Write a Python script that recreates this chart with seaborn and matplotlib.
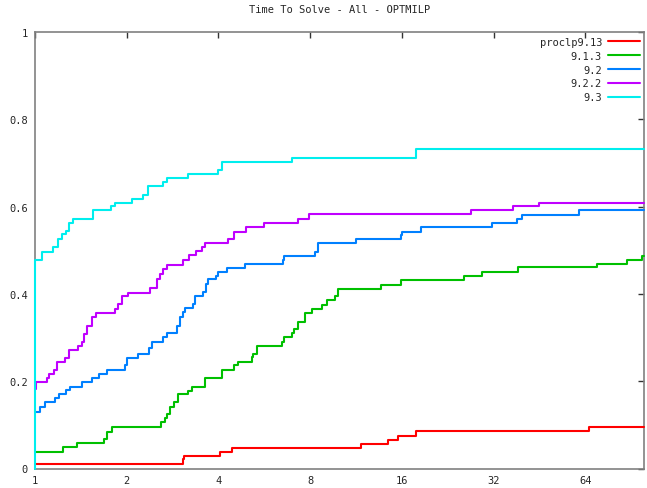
import numpy as np
import pandas as pd
import matplotlib
matplotlib.use("Agg")
import matplotlib.pyplot as plt
import seaborn as sns

# performance profile data (ratio to best, fraction solved)
red_x = [1, 3.054, 3.084, 4.048, 4.423, 11.76, 14.42, 15.59, 17.84, 66.0, 100]
red_y = [0.010, 0.022, 0.029, 0.038, 0.047, 0.056, 0.066, 0.075, 0.085, 0.094, 0.094]

green_x = [1, 1.233, 1.371, 1.685, 1.719, 1.785, 2.592, 2.672, 2.718, 2.774,
           2.860, 2.954, 3.186, 3.283, 3.615, 4.101, 4.500, 4.649, 5.144, 5.208,
           5.367, 6.484, 6.566, 6.961, 7.083, 7.284, 7.696, 8.095, 8.729, 9.110,
           9.681, 9.904, 13.64, 15.87, 25.67, 29.27, 38.42, 69.8, 87.6, 98.0, 100]
green_y = [0.037, 0.049, 0.058, 0.068, 0.084, 0.096, 0.106, 0.115, 0.125, 0.142,
           0.153, 0.171, 0.178, 0.187, 0.207, 0.226, 0.236, 0.245, 0.255, 0.262,
           0.281, 0.290, 0.301, 0.310, 0.320, 0.336, 0.356, 0.365, 0.375, 0.386,
           0.396, 0.411, 0.421, 0.431, 0.442, 0.451, 0.461, 0.468, 0.478, 0.487, 0.487]

blue_x = [1, 1.039, 1.078, 1.163, 1.202, 1.264, 1.303, 1.423, 1.535, 1.622,
          1.727, 1.974, 2.010, 2.184, 2.367, 2.416, 2.637, 2.718, 2.918, 2.992,
          3.054, 3.107, 3.309, 3.352, 3.552, 3.642, 3.706, 3.920, 3.997, 4.278,
          4.891, 6.533, 6.566, 8.30, 8.51, 11.32, 15.87, 15.99, 18.46, 31.71,
          38.13, 39.61, 61.06, 100]
blue_y = [0.130, 0.140, 0.152, 0.161, 0.171, 0.180, 0.187, 0.197, 0.207, 0.216,
          0.226, 0.236, 0.252, 0.262, 0.276, 0.290, 0.301, 0.310, 0.327, 0.346,
          0.358, 0.367, 0.377, 0.394, 0.404, 0.423, 0.433, 0.442, 0.451, 0.459,
          0.468, 0.478, 0.486, 0.495, 0.516, 0.526, 0.535, 0.542, 0.553, 0.562,
          0.572, 0.581, 0.591, 0.591]

magenta_x = [1, 1.005, 1.092, 1.114, 1.154, 1.184, 1.255, 1.296, 1.387, 1.423,
             1.452, 1.485, 1.535, 1.582, 1.831, 1.877, 1.925, 2.024, 2.385, 2.521,
             2.573, 2.637, 2.718, 3.067, 3.203, 3.369, 3.525, 3.615, 4.311, 4.500,
             4.928, 5.646, 7.316, 7.933, 27.06, 36.94, 45.13, 100]
magenta_y = [0.182, 0.197, 0.207, 0.216, 0.226, 0.245, 0.252, 0.271, 0.281, 0.290,
             0.308, 0.327, 0.346, 0.356, 0.365, 0.377, 0.394, 0.401, 0.413, 0.434,
             0.446, 0.457, 0.467, 0.478, 0.488, 0.498, 0.507, 0.517, 0.526, 0.542,
             0.553, 0.562, 0.572, 0.583, 0.592, 0.601, 0.609, 0.609]

cyan_x = [1, 1, 1.052, 1.143, 1.193, 1.224, 1.264, 1.296, 1.330, 1.554,
          1.776, 1.831, 2.077, 2.257, 2.355, 2.626, 2.706, 3.172, 3.978, 4.101,
          6.961, 17.81, 100]
cyan_y = [0.0, 0.478, 0.497, 0.507, 0.526, 0.536, 0.545, 0.562, 0.572, 0.591,
          0.601, 0.608, 0.617, 0.627, 0.648, 0.657, 0.666, 0.675, 0.683, 0.703,
          0.712, 0.732, 0.732]

series = [
    ("proclp9.13", red_x, red_y, "#ff0000"),
    ("9.1.3", green_x, green_y, "#00c000"),
    ("9.2", blue_x, blue_y, "#0080ff"),
    ("9.2.2", magenta_x, magenta_y, "#c000ff"),
    ("9.3", cyan_x, cyan_y, "#00eeee"),
]
x_ticks = [1, 2, 4, 8, 16, 32, 64]
y_ticks = [0, 0.2, 0.4, 0.6, 0.8, 1]

sns.set_style("white")
plt.rcParams['font.family'] = ['DejaVu Sans Mono']

fig = plt.figure(figsize=(6.47, 4.89), dpi=100)
ax = fig.add_axes([35 / 647, 19.5 / 489, 609.3 / 647, 436.6 / 489])

for name, xs, ys, col in series:
    d = pd.DataFrame({"ratio": xs, "solved": ys})
    sns.lineplot(data=d, x="ratio", y="solved", ax=ax, color=col, label=name,
                 drawstyle="steps-post", sort=False, estimator=None,
                 linewidth=1.5, zorder=3, clip_on=False)

ax.set_xscale("log", base=2)
ax.set_xlim(1, 100)
ax.set_ylim(0, 1)
ax.set_xticks(x_ticks)
ax.set_xticklabels([str(t) for t in x_ticks])
ax.set_yticks(y_ticks)
ax.set_yticklabels(["0", "0.2", "0.4", "0.6", "0.8", "1"])
ax.minorticks_off()
ax.set_xlabel("")
ax.set_ylabel("")
ax.tick_params(direction="in", length=4, width=1, top=True, right=True,
               labelsize=7.5, color="#333333", pad=5)
for sp in ax.spines.values():
    sp.set_color("#808080")
    sp.set_linewidth(1.2)

ax.set_title("Time To Solve - All - OPTMILP", fontsize=7.5, pad=14)

leg = ax.legend(loc="upper right", frameon=False, markerfirst=False,
                fontsize=7.5, handlelength=3.0, labelspacing=0.38,
                borderaxespad=0.15, handletextpad=0.6, borderpad=0.3)
for t in leg.get_texts():
    t.set_ha("right")

fig.savefig("out.png", dpi=100)
